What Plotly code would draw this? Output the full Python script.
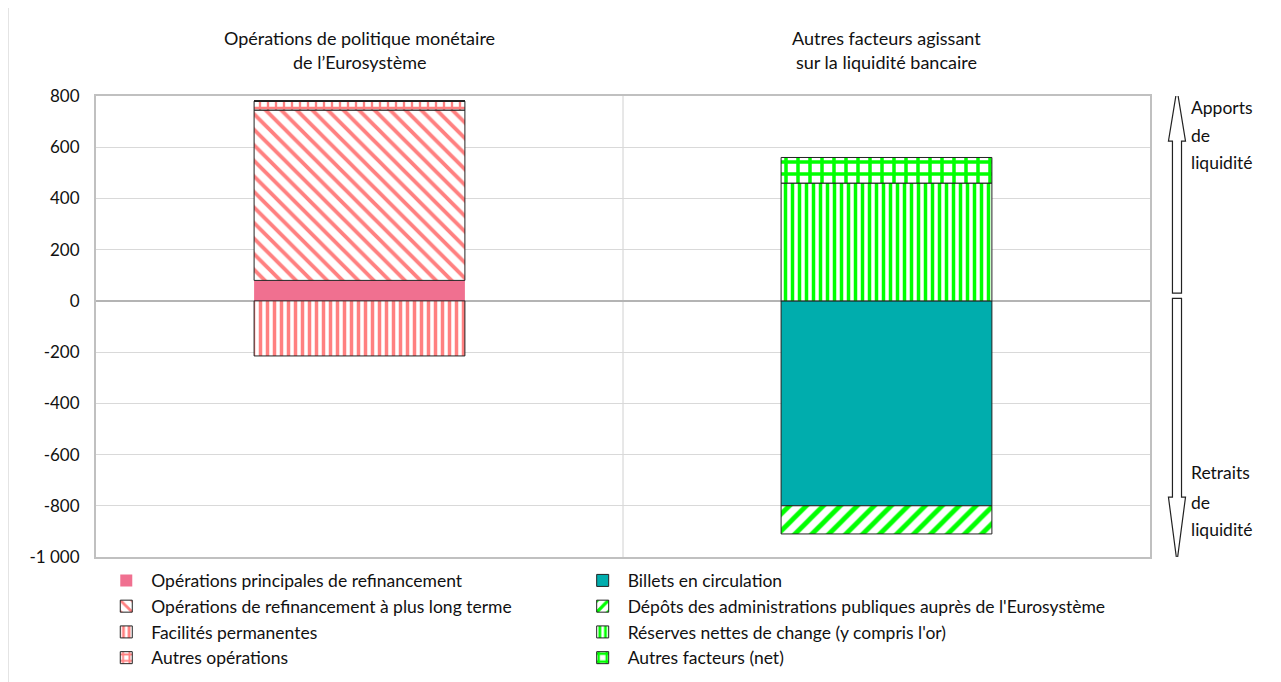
import plotly.graph_objects as go


# ---------------------------------
# DATA
# ---------------------------------

categories = ["Opérations de politique monétaire", "Autres facteurs"]

# left bar components (Eurosystem operations)
principales = [80, 0]
long_terme = [665, 0]
facilites = [-215, 0]
autres_operations = [35, 0]

# right bar components (other liquidity factors)
billets = [0, -800]
depots = [0, -110]
reserves = [0, 460]
autres_facteurs = [0, 100]

tick_values = [800, 600, 400, 200, 0, -200, -400, -600, -800, -1000]
tick_labels = ["800", "600", "400", "200", "0", "-200", "-400", "-600", "-800", "-1 000"]

PINK = "#ff8080"
PINK_SOLID = "#f07090"
GREEN = "#00ff00"
TEAL = "#00adad"
FONT = "Lato, sans-serif"
SIZE = 17


def bar(name, values, color, legend, shape="", size=8, solidity=0.5, outline=1):

    pattern = dict(shape=shape)
    if shape:
        pattern.update(fgcolor=color, bgcolor="white", size=size,
                       solidity=solidity, fillmode="replace")

    return go.Bar(
        x=categories,
        y=values,
        name=name,
        legend=legend,
        legendgroup=name,
        width=0.4,
        marker=dict(
            color="white" if shape else color,
            pattern=pattern,
            line=dict(color="#222222", width=outline)
        ),
        hovertemplate="<b>" + name + "</b><br>%{y}<extra></extra>"
    )


fig = go.Figure()

fig.add_trace(bar("Opérations principales de refinancement", principales,
                  PINK_SOLID, "legend", outline=0))
fig.add_trace(bar("Opérations de refinancement à plus long terme", long_terme,
                  PINK, "legend", shape="\\", size=11, solidity=0.35))
fig.add_trace(bar("Facilités permanentes", facilites,
                  PINK, "legend", shape="|", size=7, solidity=0.5))
fig.add_trace(bar("Autres opérations", autres_operations,
                  PINK, "legend", shape="+", size=8, solidity=0.5))

fig.add_trace(bar("Billets en circulation", billets,
                  TEAL, "legend2"))
fig.add_trace(bar("Dépôts des administrations publiques auprès de l'Eurosystème", depots,
                  GREEN, "legend2", shape="/", size=12, solidity=0.4))
fig.add_trace(bar("Réserves nettes de change (y compris l'or)", reserves,
                  GREEN, "legend2", shape="|", size=7, solidity=0.5))
fig.add_trace(bar("Autres facteurs (net)", autres_facteurs,
                  GREEN, "legend2", shape="+", size=12, solidity=0.5))


# ---------------------------------
# LAYOUT
# ---------------------------------

# the page body adds an 8px offset, so the figure is drawn 8px smaller
legend_style = dict(
    orientation="v",
    yanchor="top",
    y=-0.012,
    xanchor="left",
    bgcolor="rgba(0,0,0,0)",
    tracegroupgap=0,
    itemwidth=40,
    font=dict(size=17.5, family=FONT, color="#111111")
)

fig.update_layout(
    width=1273,
    height=674,
    barmode="relative",
    paper_bgcolor="white",
    plot_bgcolor="white",
    font=dict(family=FONT, size=SIZE, color="#111111"),
    margin=dict(l=88, r=131, t=88, b=125, autoexpand=False),
    showlegend=True,
    legend=dict(legend_style, x=0.005),
    legend2=dict(legend_style, x=0.457),
)

fig.update_xaxes(
    showticklabels=False,
    showgrid=False,
    ticks="",
    showline=True,
    mirror=True,
    linecolor="#c0c0c0",
    linewidth=2,
    range=[-0.5, 1.5]
)

fig.update_yaxes(
    range=[-1000, 800],
    tickvals=tick_values,
    ticktext=tick_labels,
    ticklabelstandoff=11,
    gridcolor="#d9d9d9",
    gridwidth=1,
    zeroline=True,
    zerolinecolor="#b4b4b4",
    zerolinewidth=2,
    showline=True,
    mirror=True,
    linecolor="#c0c0c0",
    linewidth=2,
    tickfont=dict(size=SIZE, family=FONT, color="#111111")
)

# category separator
fig.add_shape(type="line", xref="x", yref="paper", x0=0.5, x1=0.5, y0=0, y1=1,
              line=dict(color="#d0d0d0", width=1), layer="below")

# left frame line of the page
fig.add_shape(type="line", xref="paper", yref="paper", x0=-0.0835, x1=-0.0835,
              y0=-0.3, y1=1.25, line=dict(color="#c8c8c8", width=1))

# liquidity arrows
cx, hs, hh = 1.0256, 0.0043, 0.0081
up_arrow = (f"M {cx - hs} 30 L {cx - hs} 624 L {cx - hh} 624 L {cx} 827 "
            f"L {cx + hh} 624 L {cx + hs} 624 L {cx + hs} 30 Z")
down_arrow = (f"M {cx - hs} 10 L {cx - hs} -766 L {cx - hh} -766 L {cx} -1020 "
              f"L {cx + hh} -766 L {cx + hs} -766 L {cx + hs} 10 Z")
for path in [up_arrow, down_arrow]:
    fig.add_shape(type="path", xref="paper", yref="y", path=path,
                  fillcolor="white", line=dict(color="#222222", width=1.2))

# headings above the bars
headings = [
    (0.25, 1.126, "Opérations de politique monétaire"),
    (0.25, 1.074, "de l’Eurosystème"),
    (0.75, 1.126, "Autres facteurs agissant"),
    (0.75, 1.074, "sur la liquidité bancaire"),
]
for x, y, text in headings:
    fig.add_annotation(x=x, y=y, xref="paper", yref="paper", text=text,
                       showarrow=False, xanchor="center", yanchor="middle",
                       font=dict(size=18, family=FONT, color="#111111"))

arrow_labels = [
    (0.974, "Apports"), (0.915, "de"), (0.855, "liquidité"),
    (0.184, "Retraits"), (0.119, "de"), (0.0586, "liquidité"),
]
for y, text in arrow_labels:
    fig.add_annotation(x=1.037, y=y, xref="paper", yref="paper", text=text,
                       showarrow=False, xanchor="left", yanchor="middle",
                       font=dict(size=17.5, family=FONT, color="#111111"))

fig.write_html("out.html")
